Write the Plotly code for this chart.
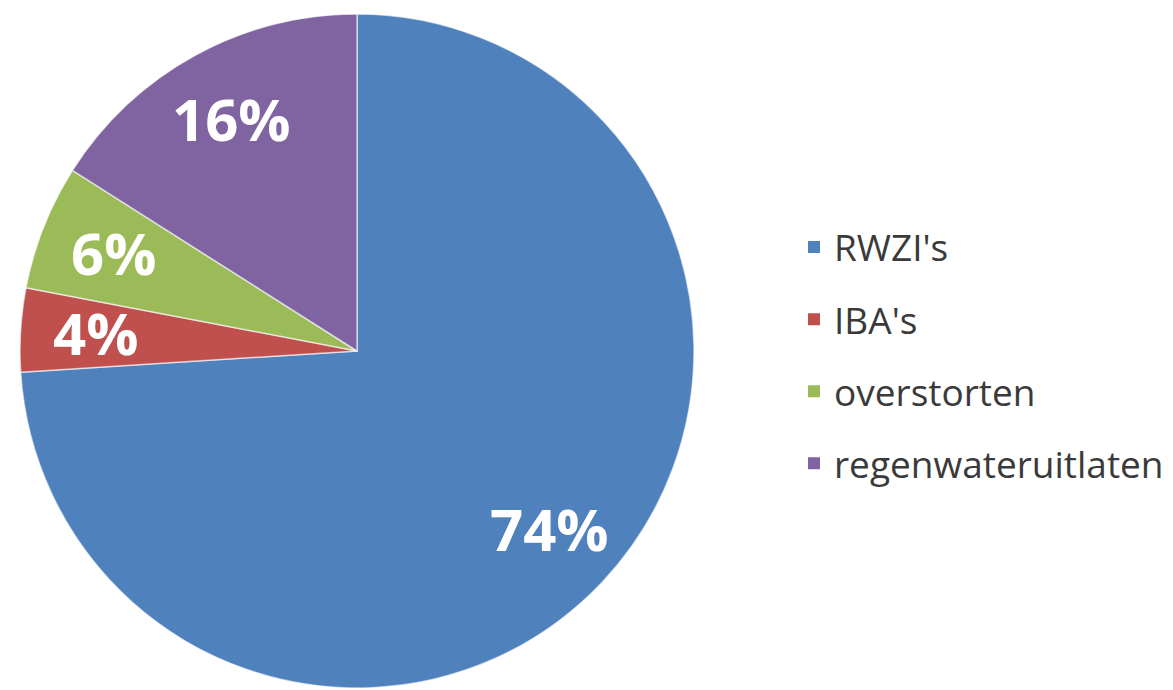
import math
import plotly.graph_objects as go

categories = ["RWZI's", "IBA's", "overstorten", "regenwateruitlaten"]
values = [74, 4, 6, 16]
colors = ["#4F81BD", "#C0504D", "#9BBB59", "#8064A2"]

W, H = 1173, 690
cx, cy, r = 349, 343, 337
label_frac = 0.78

fig = go.Figure()
fig.add_trace(go.Pie(
    labels=categories, values=values, sort=False, direction="clockwise", rotation=0,
    marker=dict(colors=colors, line=dict(color="rgba(255,255,255,0.6)", width=1.5)),
    textposition="none", showlegend=False, hoverinfo="label+percent",
    domain=dict(x=[(cx - r) / W, (cx + r) / W], y=[1 - (cy + r) / H, 1 - (cy - r) / H]),
))

# slice labels placed along each slice's mid-angle
total = sum(values)
acc = 0
pcx, pcy, pr = 350, 341, 337
for v in values:
    mid = (acc + v / 2) / total * 2 * math.pi
    acc += v
    px = pcx + label_frac * pr * math.sin(mid)
    py = pcy - label_frac * pr * math.cos(mid)
    fig.add_annotation(x=px / W, y=1 - py / H, xref="paper", yref="paper",
                       xanchor="center", yanchor="middle",
                       text=f"{round(v / total * 100)}%", showarrow=False,
                       font=dict(family="Open Sans", size=58, color="white", weight="bold"))

for cat, col in zip(categories, colors):
    fig.add_trace(go.Scatter(
        x=[None], y=[None], mode="markers", name=cat, legendgroup=cat,
        marker=dict(symbol="square", size=20, color=col),
    ))

fig.update_layout(
    width=W, height=H, margin=dict(l=0, r=0, t=0, b=0),
    paper_bgcolor="white", plot_bgcolor="white",
    xaxis=dict(visible=False), yaxis=dict(visible=False),
    legend=dict(x=786 / W, xanchor="left", y=1 - 347.5 / H, yanchor="middle",
                font=dict(family="Open Sans", size=37, color="#3a3a3a"),
                tracegroupgap=21, itemsizing="constant"),
)
fig.write_html("out.html")
